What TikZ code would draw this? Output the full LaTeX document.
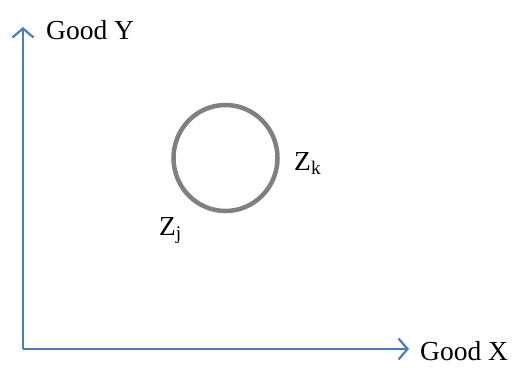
\documentclass[tikz,border=0pt]{standalone}
\usepackage{fontspec}
\setmainfont{Liberation Serif}
\usetikzlibrary{arrows.meta,shapes.geometric}
\definecolor{axisblue}{RGB}{74,126,187}
\definecolor{ringgray}{RGB}{128,128,128}
\tikzset{
  axisline/.style={draw=axisblue, line width=2.8pt, -{Straight Barb[length=9pt,width=21pt,line width=2.2pt]}},
  lbl/.style={font=\fontsize{27.5}{30}\selectfont, inner sep=0pt, anchor=base west, text depth=0pt},
}
\begin{document}
\begin{tikzpicture}[x=1pt,y=-1pt]
\useasboundingbox (0,0) rectangle (514,367);
\coordinate (O) at (23,349);
\coordinate (Ytip) at (23,27);
\coordinate (Xtip) at (409,349);
\draw[axisline] (O) -- (Ytip);
\draw[axisline] (O) -- (Xtip);
\node[lbl] (gy) at (46,39) {Good Y};
\node[lbl] (gx) at (420,360) {Good X};
\node[draw=ringgray, line width=4.5pt, ellipse, minimum width=104pt, minimum height=106pt, inner sep=0pt] (ring) at (225.5,158) {};
\node[lbl] (zk) at (294,170) {Z\textsubscript{k}};
\node[lbl] (zj) at (159,235) {Z\textsubscript{j}};
\end{tikzpicture}
\end{document}
